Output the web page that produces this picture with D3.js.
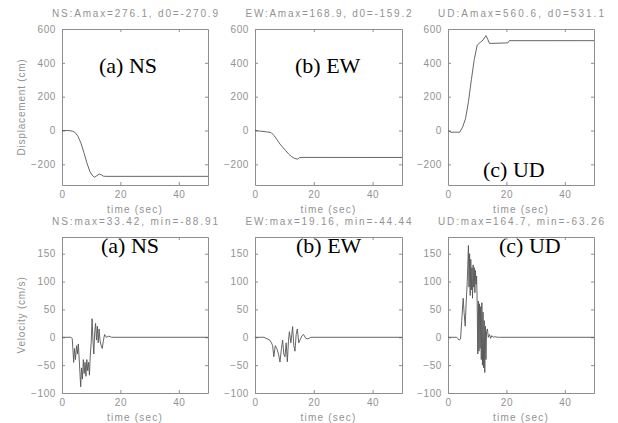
<!DOCTYPE html>
<html>
<head>
<meta charset="utf-8">
<script src="https://cdn.jsdelivr.net/npm/d3@7"></script>
<style>
  body { margin: 0; background: #fff; }
  svg { display: block; }
  .tick-label, .ax-title, .ax-label { font-family: "Liberation Sans", Arial, sans-serif; fill: #929292; }
  .panel-tag { font-family: "Liberation Serif", "Times New Roman", serif; font-size: 22px; fill: #000; }
</style>
</head>
<body>
<div id="chart"></div>
<script>
// x ticks shared by all panels
const timeTicks = [0, 20, 40];
const dispTicks = [-200, 0, 200, 400, 600];
const velTicks = [-100, -50, 0, 50, 100, 150];

const dispTitles = ['NS:Amax=276.1, d0=-270.9', 'EW:Amax=168.9, d0=-159.2', 'UD:Amax=560.6, d0=531.1'];
const velTitles = ['NS:max=33.42, min=-88.91', 'EW:max=19.16, min=-44.44', 'UD:max=164.7, min=-63.26'];
const tags = ['(a) NS', '(b) EW', '(c) UD'];

// displacement (cm)
const nsDispT = [0, 2, 3.5, 4.5, 5.5, 6.5, 7.5, 8.5, 9.5, 10.5, 11.2, 12, 12.8, 13.5, 14.2, 15, 50];
const nsDispV = [0, 0, -3, -12, -35, -75, -130, -190, -240, -268, -276.1, -266, -258, -262, -270, -271, -270.9];
const ewDispT = [0, 2, 4, 5.5, 6.5, 7.5, 8.5, 9.5, 10.5, 11.5, 12.5, 13.5, 14.5, 15.2, 16, 50];
const ewDispV = [0, -4, -8, -12, -30, -55, -80, -100, -120, -140, -155, -165, -168.9, -160, -159, -159.2];
const udDispT = [0, 1, 4, 5, 6, 7, 8, 9, 10, 11, 12, 13, 13.6, 14.2, 15, 20.5, 21, 50];
const udDispV = [0, -10, -10, 20, 70, 170, 300, 420, 505, 520, 535, 560.6, 540, 515, 515, 518, 531, 531.1];

// velocity (cm/s)
const nsVelT = [0, 3, 3.5, 4.0, 4.3, 4.6, 5.0, 5.3, 5.6, 6.0, 6.4, 6.7, 7.0, 7.3, 7.6, 7.9, 8.2, 8.5, 8.8, 9.1, 9.4, 9.7, 10.0, 10.3, 10.6, 10.9, 11.2, 11.5, 11.8, 12.1, 12.4, 12.7, 13.0, 13.4, 13.8, 14.2, 14.6, 15.2, 16, 17, 50];
const nsVelV = [0, 0, -2, -45, -20, -40, -15, -30, -12, -50, -88.91, -55, -75, -40, -65, -45, -70, -40, -60, -45, -68, -30, -10, 33.42, -5, -30, 10, 25, -5, 20, -10, 15, -5, -15, -20, -5, 5, 0, 2, 0, 0];
const ewVelT = [0, 3, 5, 5.6, 6.0, 6.4, 6.9, 7.4, 8.0, 8.5, 9.0, 9.4, 9.8, 10.2, 10.6, 11.0, 11.4, 11.7, 12.2, 12.8, 13.2, 13.6, 14.0, 14.4, 14.9, 15.3, 16.0, 16.5, 17.3, 18, 19, 50];
const ewVelV = [0, 0, -5, -10, -15, -35, -15, -20, -30, -44.44, -20, -5, -30, -35, -10, -44, -5, 10, -10, 19.16, -15, -25, 5, 15, -10, -5, 3, 5, -2, -3, 0, 0];
const udVelT = [0, 3, 3.8, 4.3, 4.7, 5.2, 5.5, 5.9, 6.2, 6.6, 7.0, 7.2, 7.4, 7.6, 7.8, 8.0, 8.2, 8.4, 8.6, 8.8, 9.0, 9.2, 9.4, 9.6, 9.8, 10.0, 10.2, 10.4, 10.6, 10.8, 11.0, 11.2, 11.4, 11.6, 11.8, 12.0, 12.2, 12.4, 12.6, 12.8, 13.0, 13.2, 13.5, 13.8, 14.2, 14.6, 15.0, 15.5, 16, 17, 18, 50];
const udVelV = [0, 0, -5, -3, 30, 70, 45, 20, 60, 100, 164.7, 90, 150, 75, 140, 85, 125, 70, 130, 90, 125, 80, 120, 95, 110, 60, -30, 65, -25, 60, -20, 55, -40, 62, -50, 45, -55, 30, -63.26, 20, -40, 10, 15, 0, 5, -2, 3, 0, 1, 0, 0, 0];

const W = 618, H = 423;
const cols = [[62, 208], [255, 402], [448, 594]];
const rows = [
  { y: [29, 185], domain: [-322, 600], ticks: dispTicks, titles: dispTitles,
    series: [[nsDispT, nsDispV], [ewDispT, ewDispV], [udDispT, udDispV]], ylabel: 'Displacement (cm)' },
  { y: [237, 393], domain: [-100, 180], ticks: velTicks, titles: velTitles,
    series: [[nsVelT, nsVelV], [ewVelT, ewVelV], [udVelT, udVelV]], ylabel: 'Velocity (cm/s)' }
];
// where the (a)/(b)/(c) tags sit, per row and column
const tagPos = [
  [[99, 73], [295, 73], [483, 177]],
  [[101, 253], [296, 253], [499, 253]]
];

const svg = d3.select('#chart').append('svg').attr('width', W).attr('height', H);

rows.forEach((row, ri) => {
  cols.forEach((col, ci) => {
    const x = d3.scaleLinear().domain([0, 50]).range(col);
    const y = d3.scaleLinear().domain(row.domain).range([row.y[1], row.y[0]]);
    const g = svg.append('g');

    // MATLAB style: ticks pointing inward on every side
    const axes = [
      d3.axisBottom(x).tickValues(timeTicks).tickSizeInner(-3).tickSizeOuter(0).tickPadding(6),
      d3.axisTop(x).tickValues(timeTicks).tickSizeInner(-3).tickSizeOuter(0).tickFormat(''),
      d3.axisLeft(y).tickValues(row.ticks).tickSizeInner(-3).tickSizeOuter(0).tickPadding(6),
      d3.axisRight(y).tickValues(row.ticks).tickSizeInner(-3).tickSizeOuter(0).tickFormat('')
    ];
    const shift = [`translate(0,${row.y[1]})`, `translate(0,${row.y[0]})`, `translate(${col[0]},0)`, `translate(${col[1]},0)`];
    axes.forEach((a, i) => {
      const ag = g.append('g').attr('transform', shift[i]).call(a);
      ag.selectAll('path, line').attr('stroke', '#8e8e8e');
      ag.selectAll('text').attr('class', 'tick-label').attr('font-size', 10).style('letter-spacing', '0.6px');
    });

    const [ts, vs] = row.series[ci];
    const line = d3.line().x(d => x(d[0])).y(d => y(d[1]));
    g.append('path')
      .datum(d3.zip(ts, vs))
      .attr('d', line)
      .attr('fill', 'none')
      .attr('stroke', '#555')
      .attr('stroke-width', 0.9);

    const cx = (col[0] + col[1]) / 2;
    g.append('text').attr('class', 'ax-title')
      .attr('x', cx).attr('y', row.y[0] - 12)
      .attr('text-anchor', 'middle').attr('font-size', 10)
      .attr('textLength', 166).attr('lengthAdjust', 'spacing')
      .text(row.titles[ci]);
    g.append('text').attr('class', 'ax-label')
      .attr('x', cx).attr('y', row.y[1] + 28)
      .attr('text-anchor', 'middle').attr('font-size', 10)
      .style('letter-spacing', '1.2px')
      .text('time (sec)');

    g.append('text').attr('class', 'panel-tag')
      .attr('x', tagPos[ri][ci][0]).attr('y', tagPos[ri][ci][1])
      .text(tags[ci]);
  });

  svg.append('text').attr('class', 'ax-label')
    .attr('transform', `translate(25,${(row.y[0] + row.y[1]) / 2}) rotate(-90)`)
    .attr('text-anchor', 'middle').attr('font-size', 10)
    .style('letter-spacing', '0.8px')
    .text(row.ylabel);
});
</script>
</body>
</html>
